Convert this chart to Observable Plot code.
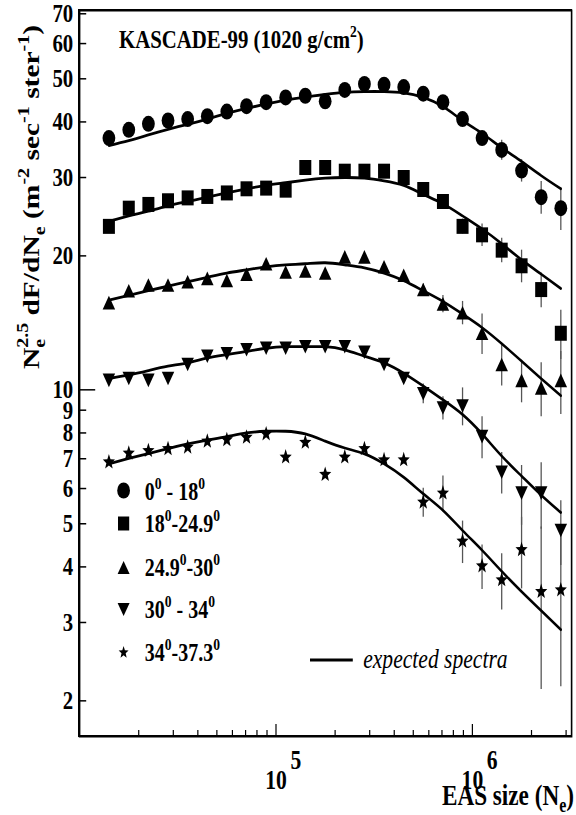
<!DOCTYPE html>
<html><head><meta charset="utf-8">
<script src="https://cdn.jsdelivr.net/npm/d3@7"></script>
<script src="https://cdn.jsdelivr.net/npm/@observablehq/plot@0.6"></script>
<style>
body{margin:0;background:#fff;overflow:hidden}
#chart{width:576px;height:815px;position:relative;background:#fff}
#chart svg{position:absolute;left:0;top:0;background:transparent!important}
#frameBox{position:absolute;left:78.4px;top:9px;width:494px;height:728px;box-sizing:border-box;border:2px solid #000;border-left-width:1.8px;border-right-width:1.8px}
</style>
</head><body><div id="chart"><div id="frameBox"></div></div>
<script>
// EAS size bin centres (Ne)
const ne = [1.41e4, 1.78e4, 2.24e4, 2.82e4, 3.55e4, 4.47e4, 5.62e4, 7.08e4, 8.91e4, 1.12e5, 1.41e5, 1.78e5,
            2.24e5, 2.82e5, 3.55e5, 4.47e5, 5.62e5, 7.08e5, 8.91e5, 1.12e6, 1.41e6, 1.78e6, 2.24e6, 2.82e6];
// measured spectra (Ne^2.5 dF/dNe) and errors
const circ    = [36.8, 38.4, 39.6, 40.3, 40.6, 41.2, 42.2, 43.4, 44.3, 45.4, 45.8, 44.5, 47.2, 48.7, 48.5, 47.9, 46.3, 44.3, 40.6, 36.8, 34.6, 31.1, 27.1, 25.6];
const circErr = [0,0,0,0,0,0,0,0,0,0,0,0,0,0,0,0,0,0, 0.5, 1.2, 1.8, 1.8, 2.3, 2.8];
const sq      = [23.3, 25.6, 26.1, 26.6, 27.0, 27.2, 27.7, 28.3, 28.4, 28.1, 31.6, 31.6, 31.0, 31.0, 31.0, 30.0, 28.2, 26.5, 23.3, 22.3, 20.6, 19.0, 16.8, 13.4];
const sqErr   = [0,0,0,0,0,0,0,0,0,0,0,0,0,0,0,0,0, 0.4, 0.9, 1.3, 1.3, 1.6, 1.5, 1.7];
const triU    = [15.7, 16.7, 17.2, 17.2, 17.5, 17.8, 17.6, 18.2, 19.2, 18.4, 18.5, 18.3, 19.9, 19.9, 18.9, 18.1, 16.8, 15.6, 14.9, 13.4, 11.4, 10.5, 10.1, 10.5];
const triUErr = [0,0,0,0,0,0,0,0,0,0,0,0,0,0,0, 0.3, 0.5, 0.7, 0.9, 1.4, 1.2, 1.15, 1.4, 1.7];
const triD    = [10.5, 10.6, 10.5, 10.6, 11.4, 11.9, 12.05, 12.3, 12.4, 12.4, 12.5, 12.5, 12.5, 12.15, 11.4, 10.6, 9.8, 9.1, 9.2, 7.85, 6.53, 5.86, 5.86, 4.83];
const triDErr = [0,0,0,0,0,0,0,0,0,0,0,0,0,0,0, 0.2, 0.5, 0.55, 0.9, 0.85, 0.7, 0.9, 1.0, 0.8];
const star    = [6.88, 7.2, 7.3, 7.37, 7.43, 7.66, 7.72, 7.82, 7.96, 7.06, 7.62, 6.45, 7.06, 7.37, 6.96, 6.96, 5.59, 5.86, 4.57, 4.02, 3.74, 4.37, 3.52, 3.55];
const starErr = [0,0,0,0,0,0,0,0,0,0,0,0,0,0, 0.1, 0.15, 0.42, 0.54, 0.5, 0.46, 0.54, 0.8, 1.4, 1.4];
// expected spectra
const circLine = [35.4, 36.3, 37.4, 38.5, 39.5, 40.6, 41.8, 42.9, 43.9, 44.8, 45.5, 46.1, 46.6, 46.8, 46.8, 46.5, 45.4, 43.3, 40.3, 37.7, 35.0, 32.6, 30.3, 28.3];
const sqLine   = [23.9, 24.6, 25.2, 25.9, 26.5, 27.1, 27.7, 28.3, 28.8, 29.2, 29.6, 29.9, 30.0, 29.9, 29.5, 28.8, 27.5, 26.2, 24.6, 23.0, 21.3, 19.6, 18.2, 16.9];
const triULine = [15.9, 16.3, 16.7, 17.1, 17.5, 17.9, 18.3, 18.6, 18.9, 19.1, 19.2, 19.3, 19.1, 18.8, 18.3, 17.6, 16.7, 15.8, 14.8, 13.8, 12.7, 11.6, 10.6, 9.7];
const triDLine = [10.6, 10.8, 11.05, 11.3, 11.5, 11.8, 12.0, 12.2, 12.4, 12.5, 12.5, 12.5, 12.3, 11.9, 11.5, 10.9, 10.2, 9.5, 8.8, 7.96, 7.1, 6.4, 5.8, 5.3];
const starLine = [6.82, 7.01, 7.19, 7.38, 7.56, 7.71, 7.85, 8.0, 8.07, 8.07, 7.96, 7.67, 7.4, 7.18, 6.82, 6.36, 5.84, 5.36, 4.83, 4.36, 3.91, 3.52, 3.19, 2.89];
// legend labels [main, sup, main, sup]
const legendLabels = [["0","0"," - 18","0"],["18","0","-24.9","0"],["24.9","0","-30","0"],["30","0"," - 34","0"],["34","0","-37.3","0"]];
// axes
const xDomain = [1e4, 3.2e6];
const yDomain = [1.663, 71.2];
const yLabels = [2,3,4,5,6,7,8,9,10,20,30,40,50,60,70];
const yMinor = [2,3,4,5,6,7,8,9,20,30,40,50,60,70];
const yMajor = [10];
const xMinor = [2e4,3e4,4e4,5e4,6e4,7e4,8e4,9e4,2e5,3e5,4e5,5e5,6e5,7e5,8e5,9e5,2e6,3e6];
const xMajor = [1e5, 1e6];
const xExp = ["5","6"];

const W = 720, H = 815, mL = 99, mR = 6, mT = 10, mB = 79;
const innerW = W - mL - mR, innerH = H - mT - mB;
const base = {
  width: W, height: H, marginLeft: mL, marginRight: mR, marginTop: mT, marginBottom: mB,
  style: {fontFamily: "Liberation Serif", color: "black", background: "transparent"},
  x: {type: "log", domain: xDomain, axis: null},
  y: {type: "log", domain: yDomain, axis: null}
};
function squash(svg) {
  svg.setAttribute("width", 576);
  svg.setAttribute("height", 815);
  svg.setAttribute("preserveAspectRatio", "none");
  svg.style.maxWidth = "none";
  svg.style.width = "576px";
  svg.style.height = "815px";
  svg.style.background = "transparent";
  document.getElementById("chart").appendChild(svg);
  return svg;
}

function sym(fn){ return {draw(ctx, size){ fn(ctx, Math.sqrt(size/Math.PI)); }}; }
const squareSym = sym((c,r)=>{c.moveTo(-r,-r);c.lineTo(r,-r);c.lineTo(r,r);c.lineTo(-r,r);c.closePath();});
const triUpSym = sym((c,r)=>{const h=r*0.87;c.moveTo(0,-h);c.lineTo(r,h);c.lineTo(-r,h);c.closePath();});
const triDownSym = sym((c,r)=>{const h=r*0.87;c.moveTo(0,h);c.lineTo(r,-h);c.lineTo(-r,-h);c.closePath();});
const starSym = sym((c,r)=>{for(let i=0;i<10;i++){const a=-Math.PI/2+i*Math.PI/5;const rr=i%2?r*0.42:r;const x=rr*Math.cos(a),y=rr*Math.sin(a);if(i)c.lineTo(x,y);else c.moveTo(x,y);}c.closePath();});

const series = [
  {v: circ, e: circErr, l: circLine, symbol: "circle", r: 8, lr: 8},
  {v: sq, e: sqErr, l: sqLine, symbol: squareSym, r: 7.5, lr: 7},
  {v: triU, e: triUErr, l: triULine, symbol: triUpSym, r: 7.8, lr: 7.5},
  {v: triD, e: triDErr, l: triDLine, symbol: triDownSym, r: 7.8, lr: 7.5},
  {v: star, e: starErr, l: starLine, symbol: starSym, r: 8, lr: 6.5}
];
const pts = s => ne.map((x,i)=>({x, y: s.v[i], e: s.e[i]}));
const lns = s => ne.map((x,i)=>({x, y: s.l[i]}));
const legendDy = [480, 513, 557, 599, 642];

// layer 1: data, labels
const svg = squash(Plot.plot({...base, marks: [
  Plot.axisY(yLabels, {tickSize: 0, tickPadding: 8, fontSize: 26, fontWeight: "bold", tickFormat: d=>String(d), label: null}),
  Plot.text(xMajor, {x: d=>d, text: ()=>"10", frameAnchor: "bottom", lineAnchor: "bottom", dy: 52, fontSize: 27, fontWeight: "bold"}),
  Plot.text(xMajor, {x: d=>d, text: (d,i)=>xExp[i], frameAnchor: "bottom", lineAnchor: "bottom", textAnchor: "start", dx: 18, dy: 32, fontSize: 27, fontWeight: "bold"}),
  ...series.map(s => Plot.ruleX(pts(s).filter(d=>d.e>0), {x: "x", y1: d=>d.y-d.e, y2: d=>d.y+d.e, stroke: "#555", strokeWidth: 1.6})),
  ...series.map(s => Plot.line(lns(s), {x: "x", y: "y", curve: "natural", stroke: "black", strokeWidth: 2.8})),
  ...series.map(s => Plot.dot(pts(s), {x: "x", y: "y", symbol: s.symbol, r: s.r, fill: "black", stroke: null})),
  ...series.map((s,i) => Plot.dot([0], {frameAnchor: "top-left", dx: 55, dy: legendDy[i], symbol: s.symbol, r: s.lr, fill: "black", stroke: null}))
]}));

// layer 2: frame and inner ticks
squash(Plot.plot({...base, marks: [
  Plot.frame({stroke: "black", strokeWidth: 2}),
  Plot.tickY(yMinor, {y: d=>d, insetRight: innerW - 8.75, stroke: "black", strokeWidth: 1.5}),
  Plot.tickY(yMajor, {y: d=>d, insetRight: innerW - 20, stroke: "black", strokeWidth: 1.5}),
  Plot.tickX(xMinor, {x: d=>d, insetTop: innerH - 6, stroke: "black", strokeWidth: 1.5}),
  Plot.tickX(xMajor, {x: d=>d, insetTop: innerH - 12, stroke: "black", strokeWidth: 1.5})
]}));

const g = d3.select(svg).append("g").attr("font-family", "Liberation Serif").attr("fill", "black").attr("text-anchor", "start");
// title
const t = g.append("text").attr("x", 148.75).attr("y", 48).attr("font-size", 26).attr("font-weight", "bold");
t.append("tspan").text("KASCADE-99 (1020 g/cm");
t.append("tspan").attr("dy", -11).attr("font-size", 17).text("2");
t.append("tspan").attr("dy", 11).text(")");
// y label
const yl = g.append("text").attr("transform", "translate(48.75,197) rotate(-90)").attr("text-anchor", "middle").attr("font-size", 29.5).attr("font-weight", "bold");
yl.append("tspan").text("N");
yl.append("tspan").attr("dy", -14).attr("font-size", 20).text("2.5");
yl.append("tspan").attr("dy", 22).attr("dx", -25).attr("font-size", 20).text("e");
yl.append("tspan").attr("dy", -8).attr("dx", 16).text(" dF/dN");
yl.append("tspan").attr("dy", 8).attr("font-size", 20).text("e");
yl.append("tspan").attr("dy", -8).text(" (m");
yl.append("tspan").attr("dy", -13).attr("font-size", 20).text("-2");
yl.append("tspan").attr("dy", 13).text(" sec");
yl.append("tspan").attr("dy", -13).attr("font-size", 20).text("-1");
yl.append("tspan").attr("dy", 13).text(" ster");
yl.append("tspan").attr("dy", -13).attr("font-size", 20).text("-1");
yl.append("tspan").attr("dy", 13).text(")");
// x label
const xl = g.append("text").attr("x", 717.5).attr("y", 805).attr("text-anchor", "end").attr("font-size", 29).attr("font-weight", "bold");
xl.append("tspan").text("EAS size (N");
xl.append("tspan").attr("dy", 7).attr("font-size", 20).text("e");
xl.append("tspan").attr("dy", -7).text(")");
// legend texts
const legendBase = [500, 532, 576, 618, 661];
legendLabels.forEach((lab, i) => {
  const tx = g.append("text").attr("x", 181).attr("y", legendBase[i]).attr("font-size", 25).attr("font-weight", "bold");
  tx.append("tspan").text(lab[0]);
  tx.append("tspan").attr("dy", -11).attr("font-size", 17).text(lab[1]);
  tx.append("tspan").attr("dy", 11).text(lab[2]);
  tx.append("tspan").attr("dy", -11).attr("font-size", 17).text(lab[3]);
});
// expected spectra legend
g.append("line").attr("x1", 387.5).attr("x2", 441).attr("y1", 660).attr("y2", 660).attr("stroke", "black").attr("stroke-width", 2.8);
g.append("text").attr("x", 454).attr("y", 668).attr("font-size", 27).attr("font-style", "italic").text("expected spectra");
</script></body></html>
